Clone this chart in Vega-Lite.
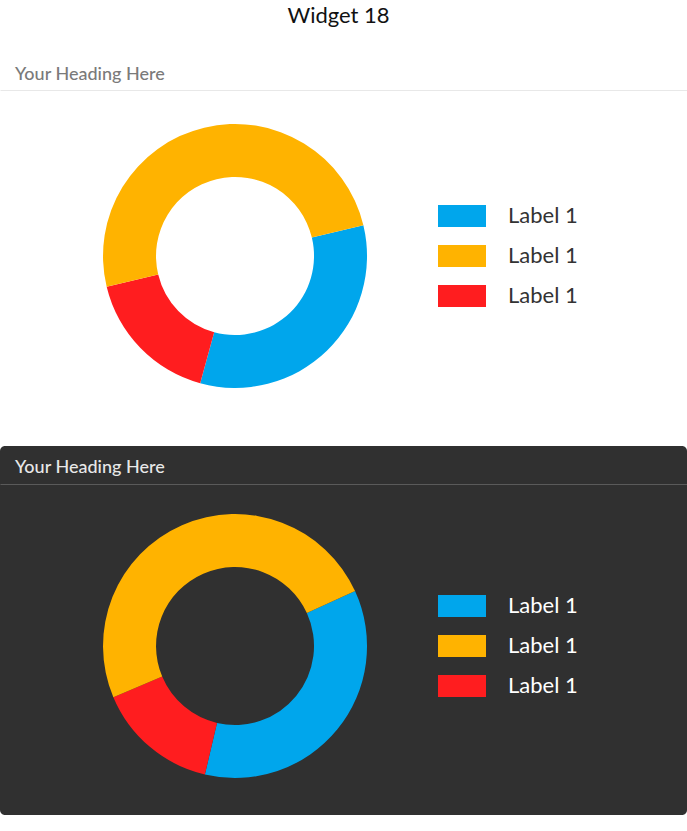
{
  "$schema": "https://vega.github.io/schema/vega-lite/v6.json",
  "background": "white",
  "padding": {"top": 5, "left": 0, "right": 0, "bottom": 0},
  "autosize": {"type": "pad"},
  "title": {"text": "Widget 18", "fontSize": 22, "font": "Lato", "fontWeight": "normal", "color": "#111111", "anchor": "middle", "baseline": "alphabetic", "offset": 7, "dx": -5},
  "spacing": 25,
  "config": {"view": {"stroke": null}, "font": "Lato"},
  "datasets": {
    "light": [
      {"cat": "A", "value": 33, "ord": 1},
      {"cat": "C", "value": 17, "ord": 2},
      {"cat": "B", "value": 50, "ord": 3}
    ],
    "dark": [
      {"cat": "A", "value": 35.5, "ord": 1},
      {"cat": "C", "value": 15, "ord": 2},
      {"cat": "B", "value": 49.5, "ord": 3}
    ]
  },
  "vconcat": [
    {
      "width": 687,
      "height": 369,
      "view": {"stroke": null},
      "title": {"text": "Your Heading Here", "anchor": "start", "frame": "group", "offset": -46, "dx": 15, "baseline": "alphabetic", "fontSize": 18, "font": "Lato", "fontWeight": 500, "color": "#7a7a7a"},
      "data": {"name": "light"},
      "mark": {"type": "arc", "radius": 132, "radius2": 79, "stroke": null},
      "encoding": {
        "theta": {"field": "value", "type": "quantitative", "stack": true, "scale": {"range": [1.3352, 7.6184]}},
        "order": {"field": "ord", "type": "quantitative"},
        "color": {
          "field": "cat", "type": "nominal",
          "scale": {"domain": ["A", "B", "C"], "range": ["#00A6EC", "#FFB300", "#FF1D1F"]},
          "legend": {"orient": "none", "legendX": 438, "legendY": 153, "padding": 0, "title": null, "symbolType": "M-1,-0.4583H1V0.4583H-1Z", "symbolSize": 2304, "symbolStrokeWidth": 0, "clipHeight": 22, "rowPadding": 18, "labelFontSize": 22, "labelFont": "Lato", "labelFontWeight": "normal", "labelColor": "#333333", "labelOffset": 22, "labelExpr": "'Label 1'"}
        },
        "x": {"datum": 0.3421, "type": "quantitative", "scale": {"domain": [0, 1]}, "axis": {"orient": "top", "offset": -38, "minExtent": 0, "maxExtent": 0, "domain": true, "domainColor": "#e8e8e8", "domainWidth": 1, "ticks": false, "labels": false, "grid": false, "title": null}},
        "y": {"datum": 0.5528, "type": "quantitative", "scale": {"domain": [0, 1], "reverse": true}, "axis": null}
      }
    },
    {
      "width": 687,
      "height": 369,
      "view": {"fill": "#303030", "cornerRadius": 5, "stroke": null},
      "title": {"text": "Your Heading Here", "anchor": "start", "frame": "group", "offset": -45, "dx": 15, "baseline": "alphabetic", "fontSize": 18, "font": "Lato", "fontWeight": 500, "color": "#e8e8e8"},
      "data": {"name": "dark"},
      "mark": {"type": "arc", "radius": 132, "radius2": 79, "stroke": null},
      "encoding": {
        "theta": {"field": "value", "type": "quantitative", "stack": true, "scale": {"range": [1.1414, 7.4246]}},
        "order": {"field": "ord", "type": "quantitative"},
        "color": {
          "field": "cat", "type": "nominal",
          "scale": {"domain": ["A", "B", "C"], "range": ["#00A6EC", "#FFB300", "#FF1D1F"]},
          "legend": {"orient": "none", "legendX": 438, "legendY": 149, "padding": 0, "title": null, "symbolType": "M-1,-0.4583H1V0.4583H-1Z", "symbolSize": 2304, "symbolStrokeWidth": 0, "clipHeight": 22, "rowPadding": 18, "labelFontSize": 22, "labelFont": "Lato", "labelFontWeight": "normal", "labelColor": "#ffffff", "labelOffset": 22, "labelExpr": "'Label 1'"}
        },
        "x": {"datum": 0.3421, "type": "quantitative", "scale": {"domain": [0, 1]}, "axis": {"orient": "top", "offset": -38, "minExtent": 0, "maxExtent": 0, "domain": true, "domainColor": "#5a5a5a", "domainWidth": 1, "ticks": false, "labels": false, "grid": false, "title": null}},
        "y": {"datum": 0.542, "type": "quantitative", "scale": {"domain": [0, 1], "reverse": true}, "axis": null}
      }
    }
  ],
  "resolve": {"scale": {"theta": "independent", "x": "independent", "y": "independent", "color": "independent"}, "legend": {"color": "independent"}}
}
